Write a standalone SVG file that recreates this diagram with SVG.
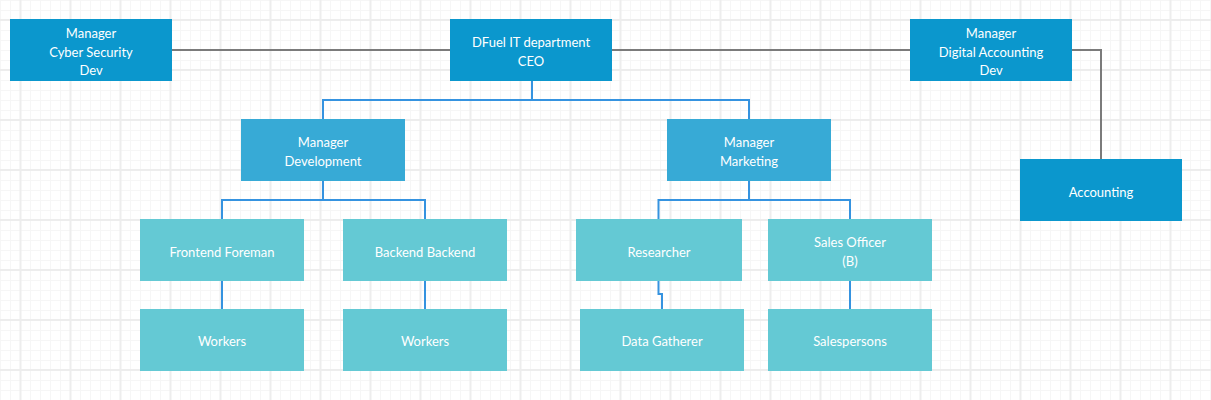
<svg xmlns="http://www.w3.org/2000/svg" width="1211" height="400" viewBox="0 0 1211 400">
<style>
.t{font-family:Lato,"Open Sans","Liberation Sans",sans-serif;font-size:13px;fill:#ffffff;text-anchor:middle;dominant-baseline:central}
.b1{fill:#0b97cd}
.b2{fill:#37aad6}
.b3{fill:#64c9d4}
.cg{fill:none;stroke:#7b7b7b;stroke-width:2}
.cb{fill:none;stroke:#3593e0;stroke-width:2}
</style>
<defs>
<pattern id="minor" patternUnits="userSpaceOnUse" x="10" y="0" width="10" height="10">
<rect x="0" y="0" width="1" height="10" fill="#f6f6f6"/>
<rect x="0" y="0" width="10" height="1" fill="#f6f6f6"/>
</pattern>
<pattern id="major" patternUnits="userSpaceOnUse" x="19.5" y="19" width="50" height="50">
<rect x="0" y="0" width="2" height="50" fill="#ededed"/>
<rect x="0" y="0" width="50" height="2" fill="#ededed"/>
</pattern>
</defs>
<rect width="1211" height="400" fill="#ffffff"/>
<rect width="1211" height="400" fill="url(#minor)"/>
<rect width="1211" height="400" fill="url(#major)"/>
<g id="connectors">
<path class="cg" d="M172 50H450"/>
<path class="cg" d="M612 50H910"/>
<path class="cg" d="M1072 50H1101V159"/>
<path class="cb" d="M532 81V100H323V119"/>
<path class="cb" d="M532 100H749V119"/>
<path class="cb" d="M323 181V200H222V219"/>
<path class="cb" d="M323 200H425V219"/>
<path class="cb" d="M222 281V309"/>
<path class="cb" d="M425 281V309"/>
<path class="cb" d="M749 181V200H658.5V219"/>
<path class="cb" d="M749 200H850V219"/>
<path class="cb" d="M658.5 281V294H662V309"/>
<path class="cb" d="M850 281V309"/>
</g>
<g id="cyber"><rect class="b1" x="10" y="19" width="162" height="62"/><text class="t" x="91" y="33">Manager</text><text class="t" x="91" y="51.5">Cyber Security</text><text class="t" x="91" y="70">Dev</text></g>
<g id="ceo"><rect class="b1" x="450" y="19" width="162" height="62"/><text class="t" x="531" y="42">DFuel IT department</text><text class="t" x="531" y="60.5">CEO</text></g>
<g id="digital"><rect class="b1" x="910" y="19" width="162" height="62"/><text class="t" x="991" y="33">Manager</text><text class="t" x="991" y="51.5">Digital Accounting</text><text class="t" x="991" y="70">Dev</text></g>
<g id="accounting"><rect class="b1" x="1020" y="159" width="162" height="62"/><text class="t" x="1101" y="191.5">Accounting</text></g>
<g id="dev"><rect class="b2" x="241" y="119" width="164" height="62"/><text class="t" x="323" y="142">Manager</text><text class="t" x="323" y="160.5">Development</text></g>
<g id="marketing"><rect class="b2" x="667" y="119" width="164" height="62"/><text class="t" x="749" y="142">Manager</text><text class="t" x="749" y="160.5">Marketing</text></g>
<g id="frontend"><rect class="b3" x="140" y="219" width="164" height="62"/><text class="t" x="222" y="251.5">Frontend Foreman</text></g>
<g id="backend"><rect class="b3" x="343" y="219" width="164" height="62"/><text class="t" x="425" y="251.5">Backend Backend</text></g>
<g id="researcher"><rect class="b3" x="576" y="219" width="166" height="62"/><text class="t" x="659" y="251.5">Researcher</text></g>
<g id="sales"><rect class="b3" x="768" y="219" width="164" height="62"/><text class="t" x="850" y="241.5">Sales Officer</text><text class="t" x="850" y="260.5">(B)</text></g>
<g id="workers1"><rect class="b3" x="140" y="309" width="164" height="62"/><text class="t" x="222" y="341">Workers</text></g>
<g id="workers2"><rect class="b3" x="343" y="309" width="164" height="62"/><text class="t" x="425" y="341">Workers</text></g>
<g id="datagatherer"><rect class="b3" x="580" y="309" width="164" height="62"/><text class="t" x="662" y="341">Data Gatherer</text></g>
<g id="salespersons"><rect class="b3" x="768" y="309" width="164" height="62"/><text class="t" x="850" y="341">Salespersons</text></g>
</svg>
